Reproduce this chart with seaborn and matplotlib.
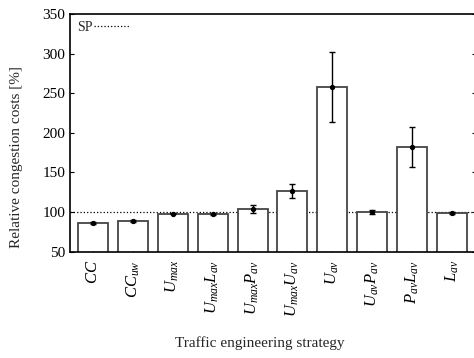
import matplotlib
matplotlib.use("Agg")
import matplotlib.pyplot as plt
import seaborn as sns
import numpy as np
import pandas as pd

strategies = ["$CC$", "$CC_{uw}$", "$U_{max}$", "$U_{max}L_{av}$", "$U_{max}P_{av}$",
              "$U_{max}U_{av}$", "$U_{av}$", "$U_{av}P_{av}$", "$P_{av}L_{av}$", "$L_{av}$"]
costs = [86.5, 88.5, 98.0, 97.5, 103.5, 126.5, 258.0, 100.5, 182.0, 98.5]
errors = [1.0, 1.5, 1.0, 1.0, 5.0, 9.0, 44.0, 2.5, 25.0, 1.0]
sp_level = 100

sns.set_theme(style="ticks")
plt.rcParams['font.family'] = ['Liberation Serif', 'DejaVu Serif']
plt.rcParams['mathtext.fontset'] = 'custom'
plt.rcParams['mathtext.it'] = 'Liberation Serif:italic'
plt.rcParams['mathtext.rm'] = 'Liberation Serif'

df = pd.DataFrame({"strategy": strategies, "cost": costs})

fig = plt.figure(figsize=(4.74, 3.58), dpi=100)
ax = fig.add_axes([70/474, 1-251.7/358, 406/474, (251.7-14)/358])

sns.barplot(data=df, x="strategy", y="cost", ax=ax, color="white",
            edgecolor="#444444", linewidth=1.3, width=0.75, errorbar=None)
ax.errorbar(np.arange(len(strategies)), costs, yerr=errors, fmt='o', color='black',
            markersize=2.8, elinewidth=1.0, capsize=2.5, capthick=1.0)
ax.axhline(sp_level, ls=':', color='black', lw=0.9, label='SP', zorder=0.5)

ax.set_ylim(50, 350)
ax.set_xlim(-0.575, len(strategies) - 0.4)
ax.set_yticks([50, 100, 150, 200, 250, 300, 350])
ax.tick_params(axis='both', direction='in', length=3, width=0.8, labelsize=11,
               right=True, colors='black')
ax.tick_params(axis='x', labelsize=12, pad=6)
for lab in ax.get_xticklabels():
    lab.set_rotation(90)

for s in ax.spines.values():
    s.set_color('black')
    s.set_linewidth(1.2)

ax.set_xlabel("Traffic engineering strategy", fontsize=11)
ax.xaxis.set_label_coords((260-70)/406, -(336-251.7)/237.7)
ax.set_ylabel("Relative congestion costs [%]", fontsize=11)
ax.yaxis.set_label_coords((23-70)/406, 0.4)

leg = ax.legend(loc='upper left', frameon=False, fontsize=10, handlelength=2.6,
                handletextpad=0.1, borderaxespad=0.1, markerfirst=False)

fig.savefig("out.png", dpi=100)
